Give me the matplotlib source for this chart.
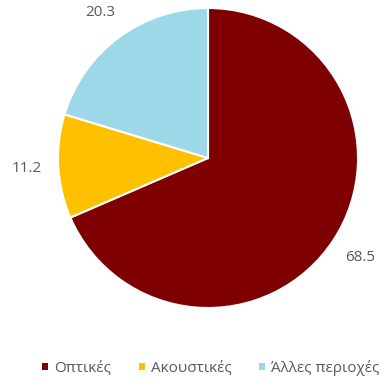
import matplotlib.pyplot as plt
from matplotlib.patches import Patch

# κατηγορίες και ποσοστά
categories = ['Οπτικές', 'Ακουστικές', 'Άλλες περιοχές']
values = [68.5, 11.2, 20.3]
colors = ['#7F0000', '#FFC000', '#9DD8E8']

plt.rcParams['font.family'] = ['Open Sans', 'DejaVu Sans']

fig = plt.figure(figsize=(3.85, 3.78), dpi=100)
ax = fig.add_axes([58 / 385, 70 / 378, 300 / 385, 300 / 378])

wedges, texts = ax.pie(values, labels=[f'{v:.1f}' for v in values], colors=colors,
                       startangle=90, counterclock=False, labeldistance=1.21,
                       wedgeprops=dict(edgecolor='white', linewidth=1.5),
                       textprops=dict(color='#595959', fontsize=11))
for t in texts:
    t.set_ha('center')
    t.set_va('center')
ax.set_xlim(-1, 1)
ax.set_ylim(-1, 1)
ax.set_aspect('auto')

# υπόμνημα στο κάτω μέρος
handles = [Patch(facecolor=c, edgecolor='none') for c in colors]
fig.legend(handles, categories, loc='center', bbox_to_anchor=(211 / 385, 1 - 368 / 378),
           ncol=3, frameon=False, handlelength=0.4, handleheight=0.4,
           handletextpad=0.4, columnspacing=1.8,
           prop=dict(size=11), labelcolor='#595959')

fig.savefig('out.png', dpi=100)
